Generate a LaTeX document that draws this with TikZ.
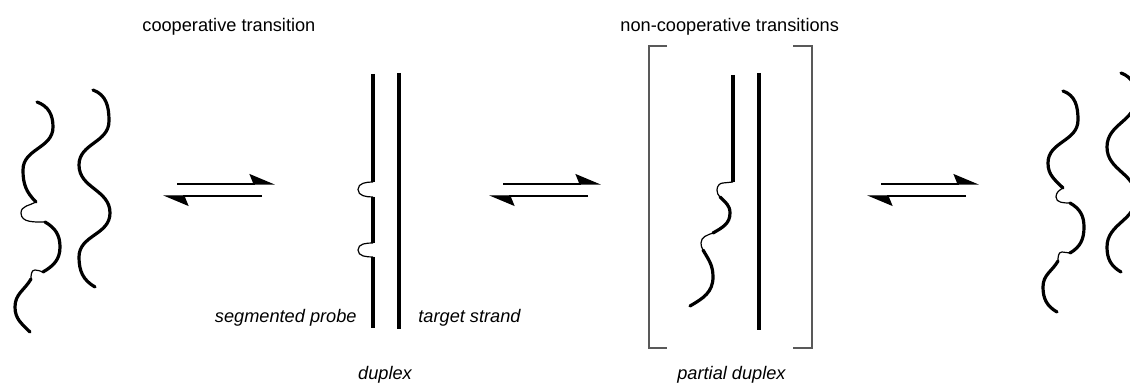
\documentclass[tikz,border=0pt]{standalone}
\usepackage{fontspec}
\setmainfont{Liberation Sans}
\usetikzlibrary{arrows.meta}
\tikzset{
  strand/.style={line width=1.6pt, line cap=round, looseness=1.05},
  duplexline/.style={line width=1.9pt},
  linker/.style={line width=.6pt},
  eqarrow/.style={line width=.65pt, -{Stealth[harpoon,length=12pt,width=10pt,inset=2pt]}},
  bracket/.style={line width=.55pt, black!65},
  lbl/.style={font=\fontsize{9.1}{11}\selectfont\itshape, inner sep=0pt},
  heading/.style={font=\fontsize{9.1}{11}\selectfont, inner sep=0pt},
}
\begin{document}
\begin{tikzpicture}[x=.5pt, y=.5pt]
\useasboundingbox (0,0) rectangle (1130,383);
\node[heading, anchor=base west] (coop) at (142,351.5) {cooperative transition};
\node[heading, anchor=base west] (noncoop) at (620,351.5) {non-cooperative transitions};
% free strands, left
\draw[strand] (37,281) to[out=-20,in=90] (53,256) to[out=-90,in=90] (23,213) to[out=-90,in=135] (36,181);
\draw[linker] (36,181) to[out=-150,in=90] (21,170) to[out=-90,in=180] (45,161);
\draw[strand] (45,161) to[out=-30,in=90] (60,136) to[out=-90,in=30] (43,111);
\draw[linker] (43,111) to[out=165,in=0] (35,113) to[out=180,in=90] (31,104);
\draw[strand] (31,104) to[out=-120,in=90] (15,76) to[out=-90,in=135] (30,51);
\draw[strand] (93,293) to[out=-20,in=90] (109,262) to[out=-90,in=90] (79,218) to[out=-90,in=90] (110,170)
  to[out=-90,in=90] (79,126) to[out=-90,in=150] (95,96);
% equilibrium arrows
\foreach \x in {163,489,867}
{
  \draw[eqarrow] (\x+14,199) -- (\x+112,199);
  \draw[eqarrow] (\x+99,187) -- (\x,187);
}
% duplex
\draw[duplexline] (373,309) -- (373,201);
\draw[linker] (373,201) to[out=180,in=90] (358,193.5) to[out=-90,in=180] (373,186);
\draw[duplexline] (373,186) -- (373,140);
\draw[linker] (373,140) to[out=180,in=90] (358,133) to[out=-90,in=180] (373,126);
\draw[duplexline] (373,126) -- (373,55);
\draw[duplexline] (399,310) -- (399,54);
\node[lbl, anchor=base east] (probe) at (357,60) {segmented probe};
\node[lbl, anchor=base west] (target) at (418,60) {target strand};
\node[lbl, anchor=base] (duplex) at (385,3) {duplex};
% partial duplex
\draw[bracket] (667,337) -- (649,337) -- (649,35) -- (667,35);
\draw[bracket] (793,337) -- (812,337) -- (812,35) -- (793,35);
\draw[duplexline] (733,308) -- (733,201);
\draw[linker] (733,201) -- (723,200) to[out=180,in=90] (717,193) to[out=-90,in=135] (720,186);
\draw[strand] (720,186) to[out=-45,in=90] (730,170) to[out=-90,in=30] (713,150);
\draw[linker] (713,150) to[out=200,in=90] (701,140) to[out=-90,in=120] (703,133);
\draw[strand] (703,133) to[out=-60,in=90] (713,106) to[out=-90,in=30] (690,77);
\draw[duplexline] (759,310) -- (759,53);
\node[lbl, anchor=base] (partial) at (731.5,3.5) {partial duplex};
% free strands, right
\draw[strand] (1063,292) to[out=-20,in=90] (1078,263) to[out=-90,in=90] (1048,220) to[out=-90,in=135] (1063,195);
\draw[linker] (1063,195) to[out=-150,in=90] (1056,186) to[out=-90,in=180] (1070,180);
\draw[strand] (1070,180) to[out=-30,in=90] (1084,156) to[out=-90,in=30] (1070,130);
\draw[linker] (1070,130) to[out=170,in=0] (1062,131) to[out=180,in=90] (1058,122);
\draw[strand] (1058,122) to[out=-120,in=90] (1043,96) to[out=-90,in=150] (1057,71);
\draw[strand] (1121,310) to[out=-20,in=90] (1136,285) to[out=-90,in=90] (1107,236) to[out=-90,in=90] (1136,186)
  to[out=-90,in=90] (1107,136) to[out=-90,in=150] (1121,111);
\end{tikzpicture}
\end{document}
